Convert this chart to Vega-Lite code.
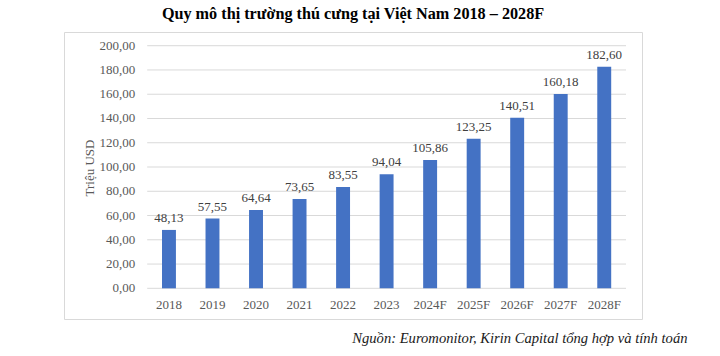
{
  "$schema": "https://vega.github.io/schema/vega-lite/v6.json",
  "width": 578,
  "height": 287,
  "autosize": {"type": "none"},
  "padding": {"left": 64, "top": 32, "right": 78, "bottom": 37},
  "background": "white",
  "config": {
    "locale": {"number": {"decimal": ",", "thousands": ".", "grouping": [3], "currency": ["", ""]}},
    "view": {"stroke": "#d9d9d9", "strokeWidth": 1},
    "font": "Liberation Serif"
  },
  "title": {
    "text": "Quy mô thị trường thú cưng tại Việt Nam 2018 – 2028F",
    "font": "Liberation Serif",
    "fontSize": 16.2,
    "fontWeight": "bold",
    "color": "#000000",
    "anchor": "middle",
    "baseline": "alphabetic",
    "offset": 15,
    "dy": 18
  },
  "data": {
    "values": [
      {"year": "2018", "value": 48.13},
      {"year": "2019", "value": 57.55},
      {"year": "2020", "value": 64.64},
      {"year": "2021", "value": 73.65},
      {"year": "2022", "value": 83.55},
      {"year": "2023", "value": 94.04},
      {"year": "2024F", "value": 105.86},
      {"year": "2025F", "value": 123.25},
      {"year": "2026F", "value": 140.51},
      {"year": "2027F", "value": 160.18},
      {"year": "2028F", "value": 182.60}
    ]
  },
  "layer": [
    {
      "data": {"values": [{"v": 0}, {"v": 20}, {"v": 40}, {"v": 60}, {"v": 80}, {"v": 100}, {"v": 120}, {"v": 140}, {"v": 160}, {"v": 180}, {"v": 200}]},
      "layer": [
        {
          "mark": {"type": "rule", "color": "#d9d9d9", "strokeWidth": 1},
          "encoding": {
            "x": {"datum": -0.5, "type": "quantitative", "scale": {"domain": [-2.411, 10.867], "nice": false, "zero": false}, "axis": null},
            "x2": {"datum": 10.5},
            "y": {"field": "v", "type": "quantitative", "scale": {"domain": [-25.3, 211.3], "nice": false, "zero": false}}
          }
        },
        {
          "mark": {"type": "text", "align": "right", "baseline": "middle", "dx": -12, "fontSize": 13, "font": "Liberation Serif", "color": "#595959"},
          "encoding": {
            "x": {"datum": -0.5, "type": "quantitative"},
            "y": {"field": "v", "type": "quantitative"},
            "text": {"field": "v", "type": "quantitative", "format": ".2f"}
          }
        }
      ]
    },
    {
      "layer": [
        {
          "mark": {"type": "bar", "color": "#4472C4"},
          "encoding": {
            "x": {
              "field": "year", "type": "nominal", "sort": null,
              "scale": {"range": [83.2, 562], "paddingInner": 0.68, "paddingOuter": 0.34},
              "axis": {
                "orient": "bottom",
                "offset": -31,
                "labelAngle": 0,
                "labelPadding": 10,
                "labelOverlap": false,
                "ticks": false,
                "domain": false,
                "grid": false,
                "labelFont": "Liberation Serif",
                "labelFontSize": 13,
                "labelColor": "#595959",
                "title": "Nguồn: Euromonitor, Kirin Capital tổng hợp và tính toán",
                "titleFont": "Liberation Serif",
                "titleFontSize": 14.6,
                "titleFontStyle": "italic",
                "titleFontWeight": "normal",
                "titleColor": "#1a1a1a",
                "titleAlign": "right",
                "titleBaseline": "alphabetic",
                "titleX": 623,
                "titleY": 54
              }
            },
            "y": {
              "field": "value", "type": "quantitative",
              "axis": {
                "labels": false,
                "grid": false,
                "domain": false,
                "ticks": false,
                "offset": -83,
                "title": "Triệu USD",
                "titleFont": "Liberation Serif",
                "titleFontSize": 13,
                "titleFontWeight": "normal",
                "titleColor": "#595959",
                "titleAngle": -90,
                "titleAlign": "center",
                "titleBaseline": "alphabetic",
                "titleX": -54,
                "titleY": 135.5
              }
            },
            "y2": {"datum": 0}
          }
        },
        {
          "mark": {"type": "text", "baseline": "alphabetic", "dy": -8, "fontSize": 13, "font": "Liberation Serif", "color": "#404040"},
          "encoding": {
            "x": {"field": "year", "type": "nominal", "sort": null},
            "y": {"field": "value", "type": "quantitative"},
            "text": {"field": "value", "type": "quantitative", "format": ".2f"}
          }
        }
      ]
    }
  ],
  "resolve": {"scale": {"x": "independent"}}
}
